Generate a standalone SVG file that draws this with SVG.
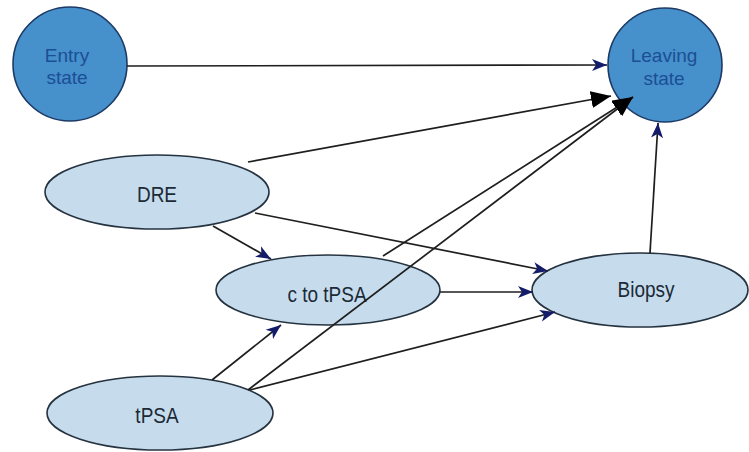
<svg xmlns="http://www.w3.org/2000/svg" width="749" height="452" viewBox="0 0 749 452">
<style>
.state{fill:#4690cc;stroke:#1d3a66;stroke-width:1.6}
.node{fill:#c6dcec;stroke:#25323f;stroke-width:1.6}
.st{font-family:"Liberation Sans",Arial,sans-serif;font-size:19px;fill:#1b4f94;text-anchor:middle}
.nt{font-family:"Liberation Sans",Arial,sans-serif;font-size:19px;fill:#1c2a38;text-anchor:middle}
.e{fill:none;stroke:#1e1e1e;stroke-width:1.7}
.s{marker-end:url(#navy)}
.b{marker-end:url(#big)}
</style>
<defs>
<marker id="navy" markerUnits="userSpaceOnUse" markerWidth="16" markerHeight="13" refX="15" refY="6" orient="auto" viewBox="0 0 16 12">
<path d="M0,0 L15,6 L0,12 L4,6 z" fill="#141c6a"/>
</marker>
<marker id="big" markerUnits="userSpaceOnUse" markerWidth="21" markerHeight="18" refX="20" refY="8.5" orient="auto" viewBox="0 0 21 17">
<path d="M0,0 L20,8.5 L0,17 z" fill="#000"/>
</marker>
</defs>
<rect width="749" height="452" fill="#fff"/>
<g id="entry">
<circle class="state" cx="70" cy="64" r="57"/>
<text class="st" x="67" y="62">Entry</text>
<text class="st" x="67" y="84">state</text>
</g>
<g id="leaving">
<circle class="state" cx="665" cy="65" r="57"/>
<text class="st" x="664" y="62">Leaving</text>
<text class="st" x="664" y="85">state</text>
</g>
<g id="dre">
<ellipse class="node" cx="157" cy="192" rx="112" ry="37"/>
<text class="nt" transform="translate(157,202) scale(1,1.2)">DRE</text>
</g>
<g id="ctotpsa">
<ellipse class="node" cx="328" cy="290" rx="112" ry="35"/>
<text class="nt" transform="translate(327,302) scale(1,1.2)">c to tPSA</text>
</g>
<g id="biopsy">
<ellipse class="node" cx="640" cy="290" rx="108" ry="37"/>
<text class="nt" transform="translate(646,297) scale(1,1.2)">Biopsy</text>
</g>
<g id="tpsa">
<ellipse class="node" cx="160" cy="413" rx="113" ry="37"/>
<text class="nt" transform="translate(157,423) scale(1,1.2)">tPSA</text>
</g>
<g id="connectors">
<path class="e s" d="M127,66 L607,65"/>
<path class="e b" d="M248,162 L611,96"/>
<path class="e b" d="M383,256 L633,97"/>
<path class="e b" d="M248,390 L633,97"/>
<path class="e s" d="M650,253 L658,123"/>
<path class="e s" d="M213,226 L271,259"/>
<path class="e s" d="M255,213 L548,271"/>
<path class="e s" d="M440,292 L533,292"/>
<path class="e s" d="M250,390 L555,312"/>
<path class="e s" d="M212,380 L281,325"/>
</g>
</svg>
